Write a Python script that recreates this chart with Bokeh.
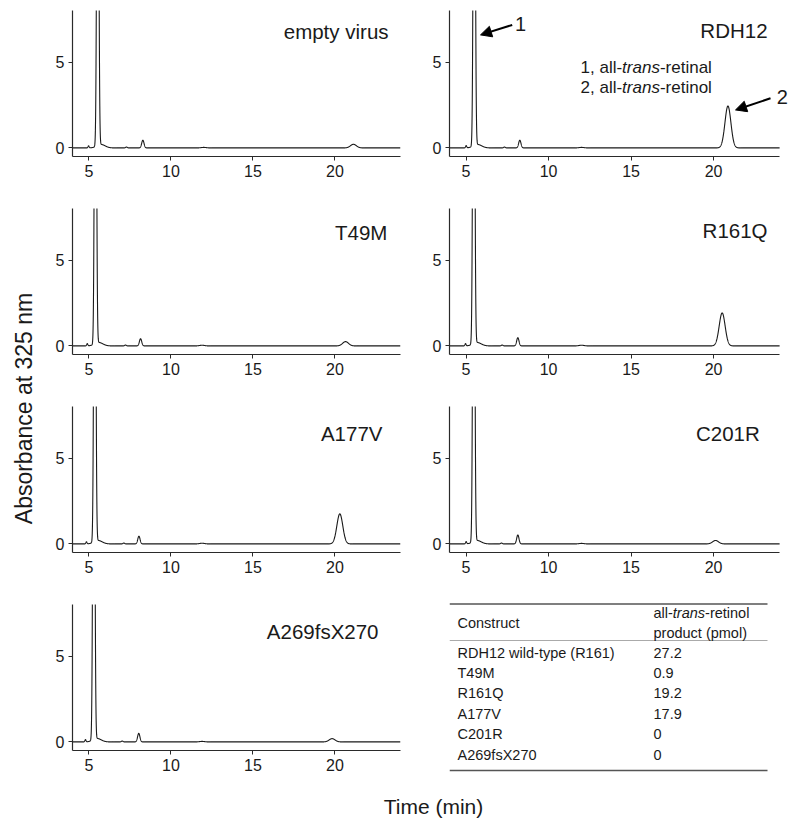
import numpy as np
from bokeh.plotting import figure
from bokeh.layouts import row, column
from bokeh.models import Range1d, Label, Arrow, NormalHead, FixedTicker
from bokeh.embed import file_html
from bokeh.resources import INLINE
from bokeh.core.properties import value

FONT = "Liberation Sans"
INK = "#1a1a1a"

# ---------------- data ----------------
panel_names = ["empty virus", "RDH12", "T49M", "R161Q", "A177V", "C201R", "A269fsX270"]
# chromatogram peaks: retention time (min) and height (absorbance) per trace
main_rt = [5.54, 5.50, 5.40, 5.47, 5.36, 5.47, 5.30]
main_h = [30.0, 30.0, 30.0, 30.0, 30.0, 30.0, 30.0]
pre_rt = [4.98, 5.01, 4.90, 4.97, 4.85, 5.01, 4.79]
pre_h = [0.12, 0.13, 0.13, 0.13, 0.12, 0.13, 0.13]
minor_rt = [7.29, 7.33, 7.23, 7.19, 7.13, 7.15, 7.03]
minor_h = [0.05, 0.05, 0.05, 0.05, 0.05, 0.05, 0.05]
p8_rt = [8.29, 8.26, 8.15, 8.14, 8.05, 8.14, 8.04]
p8_h = [0.45, 0.45, 0.42, 0.48, 0.45, 0.52, 0.50]
p12_rt = [12.0, 12.0, 11.9, 12.0, 11.9, 12.0, 11.9]
p12_h = [0.03, 0.03, 0.04, 0.04, 0.04, 0.03, 0.03]
retinol_rt = [21.13, 20.87, 20.65, 20.52, 20.30, 20.12, 19.83]
retinol_h = [0.21, 2.44, 0.25, 1.92, 1.75, 0.20, 0.19]

x_ticks = [5, 10, 15, 20]
y_ticks = [0, 5]

table_constructs = ["RDH12 wild-type (R161)", "T49M", "R161Q", "A177V", "C201R", "A269fsX270"]
table_retinol_pmol = [27.2, 0.9, 19.2, 17.9, 0, 0]

# ---------------- helpers ----------------
ARIAL_W = {'1': 556, '2': 556, ',': 278, ' ': 278, 'a': 556, 'l': 222, '-': 333,
           't': 278, 'r': 333, 'n': 556, 's': 500, 'e': 556, 'i': 222, 'o': 556}


def tw(s, size):
    return sum(ARIAL_W.get(c, 556) for c in s) / 1000.0 * size


def trace(i, t):
    peaks = [
        (main_rt[i], main_h[i], 0.055),
        (main_rt[i] + 0.2, 0.2, 0.25),
        (pre_rt[i], pre_h[i], 0.035),
        (minor_rt[i], minor_h[i], 0.05),
        (p8_rt[i], p8_h[i], 0.07),
        (p12_rt[i], p12_h[i], 0.15),
        (retinol_rt[i], retinol_h[i], 0.18),
    ]
    y = np.zeros_like(t)
    for rt, h, s in peaks:
        y += h * np.exp(-0.5 * ((t - rt) / s) ** 2)
    return y


X0, X1 = 4, 24
Y0, Y1 = -0.5, 8.0
FRAME_H = 146
PX_PER_Y = FRAME_H / (Y1 - Y0)

# title label placement: (right-edge x in data units, px below top)
title_pos = [(23.27, 21), (23.27, 20), (23.2, 24), (23.27, 22), (22.9, 27), (22.8, 27), (22.66, 27)]


def make_panel(i):
    col = i % 2
    r = i // 2
    if col == 0:
        w, bl, br, xend = 380, 32, 20, X1
    else:
        # right column: frame extended a little so the "2" marker is not clipped;
        # the axis line itself stops at 24
        w, bl, br, xend = 372, 29, 3, 24.6
    top = 10 if r == 0 else 2
    bb = 32 if r == 3 else 50
    h = top + FRAME_H + bb
    p = figure(width=w, height=h, output_backend="svg", toolbar_location=None,
               x_range=Range1d(X0, xend), y_range=Range1d(Y0, Y1),
               min_border_left=bl, min_border_right=br, min_border_top=top,
               min_border_bottom=bb)
    p.outline_line_color = None
    p.grid.visible = False
    p.background_fill_color = "white"
    p.border_fill_color = "white"
    for ax, tk in ((p.xaxis, x_ticks), (p.yaxis, y_ticks)):
        ax.ticker = FixedTicker(ticks=tk)
        ax.minor_tick_line_color = None
        ax.axis_line_color = "#2a2a2a"
        ax.axis_line_width = 1.2
        ax.major_tick_line_color = "#2a2a2a"
        ax.major_tick_out = 4
        ax.major_tick_in = 0
        ax.major_label_text_font = FONT
        ax.major_label_text_font_size = "16px"
        ax.major_label_text_color = INK
    p.xaxis.bounds = (X0, X1)
    p.xaxis.major_label_standoff = 4
    p.yaxis.major_label_standoff = 4

    t = np.linspace(X0, X1, 4001)
    p.line(t, trace(i, t), line_color="#1a1a1a", line_width=1.1)

    tx, dy = title_pos[i]
    p.add_layout(Label(x=tx, y=Y1 - dy / PX_PER_Y, text=panel_names[i], text_align="right",
                       text_baseline="middle", text_font=FONT, text_font_size="20.5px",
                       text_color=INK))
    return p


panels = [make_panel(i) for i in range(7)]

# ----- RDH12 annotations -----
pr = panels[1]
pr.add_layout(Arrow(end=NormalHead(size=11, fill_color="black", line_color="black"),
                    x_start=7.80, y_start=7.16, x_end=5.88, y_end=6.58,
                    line_width=2, line_color="black"))
pr.add_layout(Arrow(end=NormalHead(size=11, fill_color="black", line_color="black"),
                    x_start=23.45, y_start=2.89, x_end=21.33, y_end=2.21,
                    line_width=2, line_color="black"))
pr.add_layout(Label(x=8.30, y=7.22, text="1", text_align="center", text_baseline="middle",
                    text_font=FONT, text_font_size="20px", text_color=INK))
pr.add_layout(Label(x=24.16, y=2.99, text="2", text_align="center", text_baseline="middle",
                    text_font=FONT, text_font_size="20px", text_color=INK))

LEG = 17
for (pre, post), yy in ((("1, all-", "-retinal"), 4.66), (("2, all-", "-retinol"), 3.49)):
    x0 = 11.94
    off = 0
    for txt, style in ((pre, "normal"), ("trans", "italic"), (post, "normal")):
        pr.add_layout(Label(x=x0, y=yy, x_offset=off, text=txt, text_align="left",
                            text_baseline="middle", text_font=FONT,
                            text_font_size=f"{LEG}px", text_font_style=style,
                            text_color=INK))
        off += tw(txt, LEG)


# ----- blank figures for table and axis titles -----
def blank_fig(w, h, xr, yr, bl=0, br=0):
    f = figure(width=w, height=h, output_backend="svg", toolbar_location=None,
               x_range=Range1d(*xr), y_range=Range1d(*yr),
               x_axis_location=None, y_axis_location=None,
               min_border_left=bl, min_border_right=br,
               min_border_top=0, min_border_bottom=0)
    f.grid.visible = False
    f.outline_line_color = None
    f.background_fill_color = "white"
    f.border_fill_color = "white"
    return f


# table figure occupies page x 420..792, y 602..782; its frame is x 449..789
tab = blank_fig(372, 180, (449, 789), (782, 602), bl=29, br=3)
TF = "14.5px"
tab.segment(x0=[449, 449], y0=[603.5, 770], x1=[767, 767], y1=[603.5, 770],
            line_color="#555555", line_width=1.6)
tab.segment(x0=[449], y0=[640], x1=[767], y1=[640], line_color="#aaaaaa", line_width=1)

c1, c2 = 457, 653
tab.text(x=[c1], y=[622], text=["Construct"], text_font=value(FONT), text_font_size=TF,
         text_baseline="middle", text_color=INK)
hx = c2
for txt, style in (("all-", "normal"), ("trans", "italic"), ("-retinol", "normal")):
    tab.text(x=[hx], y=[612], text=[txt], text_font=value(FONT), text_font_size=TF,
             text_font_style=style, text_baseline="middle", text_color=INK)
    hx += tw(txt, 14.5)
tab.text(x=[c2], y=[632], text=["product (pmol)"], text_font=value(FONT), text_font_size=TF,
         text_baseline="middle", text_color=INK)

row_y = [652 + 20.4 * k for k in range(len(table_constructs))]
tab.text(x=[c1] * len(row_y), y=row_y, text=table_constructs, text_font=value(FONT),
         text_font_size=TF, text_baseline="middle", text_color=INK)
tab.text(x=[c2] * len(row_y), y=row_y, text=[f"{v:g}" for v in table_retinol_pmol],
         text_font=value(FONT), text_font_size=TF, text_baseline="middle", text_color=INK)

# ----- axis titles -----
H_MAIN = 206 + 198 + 198 + 180
ylab = blank_fig(40, H_MAIN, (0, 40), (H_MAIN, 0))
ylab.text(x=[23], y=[408], text=["Absorbance at 325 nm"], angle=np.pi / 2,
          text_align="center", text_baseline="middle", text_font=value(FONT),
          text_font_size="23px", text_color=INK)

xlab = blank_fig(792, 36, (0, 792), (36, 0))
xlab.text(x=[433], y=[24], text=["Time (min)"], text_align="center", text_baseline="middle",
          text_font=value(FONT), text_font_size="21px", text_color=INK)

col_left = column(panels[0], panels[2], panels[4], panels[6])
col_right = column(panels[1], panels[3], panels[5], tab)
layout = column(row(ylab, col_left, col_right), xlab)

open("out.html", "w").write(file_html(layout, INLINE))
